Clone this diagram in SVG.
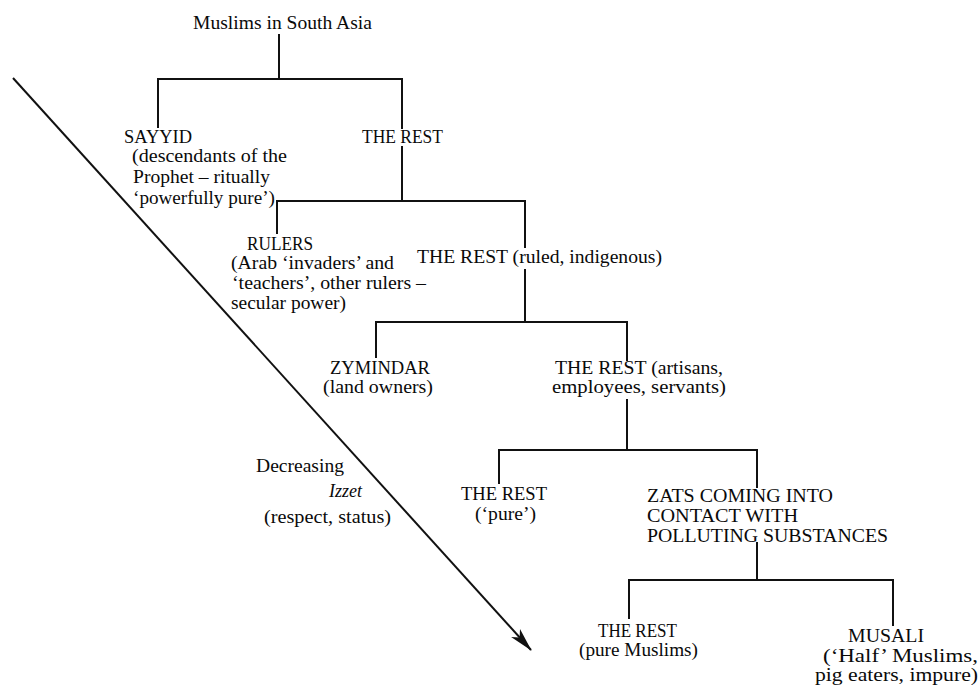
<svg xmlns="http://www.w3.org/2000/svg" width="980" height="686" viewBox="0 0 980 686">
<style>
  text { font-family: "Liberation Serif", "Times New Roman", serif; font-size: 19px; fill: #0a0a0a; }
  .it { font-style: italic; }
  .conn { fill: none; stroke: #111; stroke-width: 2; stroke-linecap: square; }
</style>
<defs>
  <marker id="arrow" markerUnits="userSpaceOnUse" viewBox="-24 -8 26 16" refX="0" refY="0" markerWidth="26" markerHeight="16" orient="auto">
    <path d="M1,0 L-23,-6 L-17,0 L-23,6 Z" fill="#111"/>
  </marker>
</defs>
<rect width="980" height="686" fill="#fff"/>

<g id="connectors">
  <path class="conn" d="M279,35 V79 M158,127 V79 H402 V128"/>
  <path class="conn" d="M402,147 V201 M277,233 V201 H525 V247"/>
  <path class="conn" d="M525,270 V322 M376,357 V322 H627 V360"/>
  <path class="conn" d="M627,400 V450 M499,483 V450 H757 V487"/>
  <path class="conn" d="M757,543 V580 M629,618 V580 H893 V625"/>
  <line id="izzet-arrow" x1="13" y1="78" x2="531" y2="650" stroke="#111" stroke-width="2" marker-end="url(#arrow)"/>
</g>

<g id="root">
  <text x="193" y="29" textLength="179" lengthAdjust="spacingAndGlyphs">Muslims in South Asia</text>
</g>
<g id="sayyid">
  <text x="124" y="143" textLength="68" lengthAdjust="spacingAndGlyphs">SAYYID</text>
  <text x="132" y="162" textLength="155" lengthAdjust="spacingAndGlyphs">(descendants of the</text>
  <text x="133" y="183" textLength="137" lengthAdjust="spacingAndGlyphs">Prophet – ritually</text>
  <text x="133" y="204" textLength="142" lengthAdjust="spacingAndGlyphs">‘powerfully pure’)</text>
</g>
<g id="rest1">
  <text x="362" y="143" textLength="81" lengthAdjust="spacingAndGlyphs">THE REST</text>
</g>
<g id="rulers">
  <text x="247" y="250" textLength="66" lengthAdjust="spacingAndGlyphs">RULERS</text>
  <text x="231" y="269" textLength="163" lengthAdjust="spacingAndGlyphs">(Arab ‘invaders’ and</text>
  <text x="232" y="289" textLength="194" lengthAdjust="spacingAndGlyphs">‘teachers’, other rulers –</text>
  <text x="231" y="309" textLength="115" lengthAdjust="spacingAndGlyphs">secular power)</text>
</g>
<g id="rest2">
  <text x="417" y="263" textLength="245" lengthAdjust="spacingAndGlyphs">THE REST (ruled, indigenous)</text>
</g>
<g id="zymindar">
  <text x="330" y="374" textLength="100" lengthAdjust="spacingAndGlyphs">ZYMINDAR</text>
  <text x="323" y="393" textLength="110" lengthAdjust="spacingAndGlyphs">(land owners)</text>
</g>
<g id="rest3">
  <text x="555" y="374" textLength="168" lengthAdjust="spacingAndGlyphs">THE REST (artisans,</text>
  <text x="552" y="393" textLength="174" lengthAdjust="spacingAndGlyphs">employees, servants)</text>
</g>
<g id="izzet-label">
  <text x="256" y="472" textLength="88" lengthAdjust="spacingAndGlyphs">Decreasing</text>
  <text class="it" x="329" y="497" textLength="33" lengthAdjust="spacingAndGlyphs">Izzet</text>
  <text x="264" y="523" textLength="127" lengthAdjust="spacingAndGlyphs">(respect, status)</text>
</g>
<g id="rest-pure">
  <text x="461" y="500" textLength="86" lengthAdjust="spacingAndGlyphs">THE REST</text>
  <text x="475" y="520" textLength="61" lengthAdjust="spacingAndGlyphs">(‘pure’)</text>
</g>
<g id="zats">
  <text x="647" y="502" textLength="186" lengthAdjust="spacingAndGlyphs">ZATS COMING INTO</text>
  <text x="647" y="522" textLength="151" lengthAdjust="spacingAndGlyphs">CONTACT WITH</text>
  <text x="647" y="542" textLength="241" lengthAdjust="spacingAndGlyphs">POLLUTING SUBSTANCES</text>
</g>
<g id="rest-pure-muslims">
  <text x="598" y="637" textLength="79" lengthAdjust="spacingAndGlyphs">THE REST</text>
  <text x="579" y="656" textLength="119" lengthAdjust="spacingAndGlyphs">(pure Muslims)</text>
</g>
<g id="musali">
  <text x="848" y="642" textLength="76" lengthAdjust="spacingAndGlyphs">MUSALI</text>
  <text x="823" y="662" textLength="155" lengthAdjust="spacingAndGlyphs">(‘Half’ Muslims,</text>
  <text x="815" y="681" textLength="163" lengthAdjust="spacingAndGlyphs">pig eaters, impure)</text>
</g>
</svg>
